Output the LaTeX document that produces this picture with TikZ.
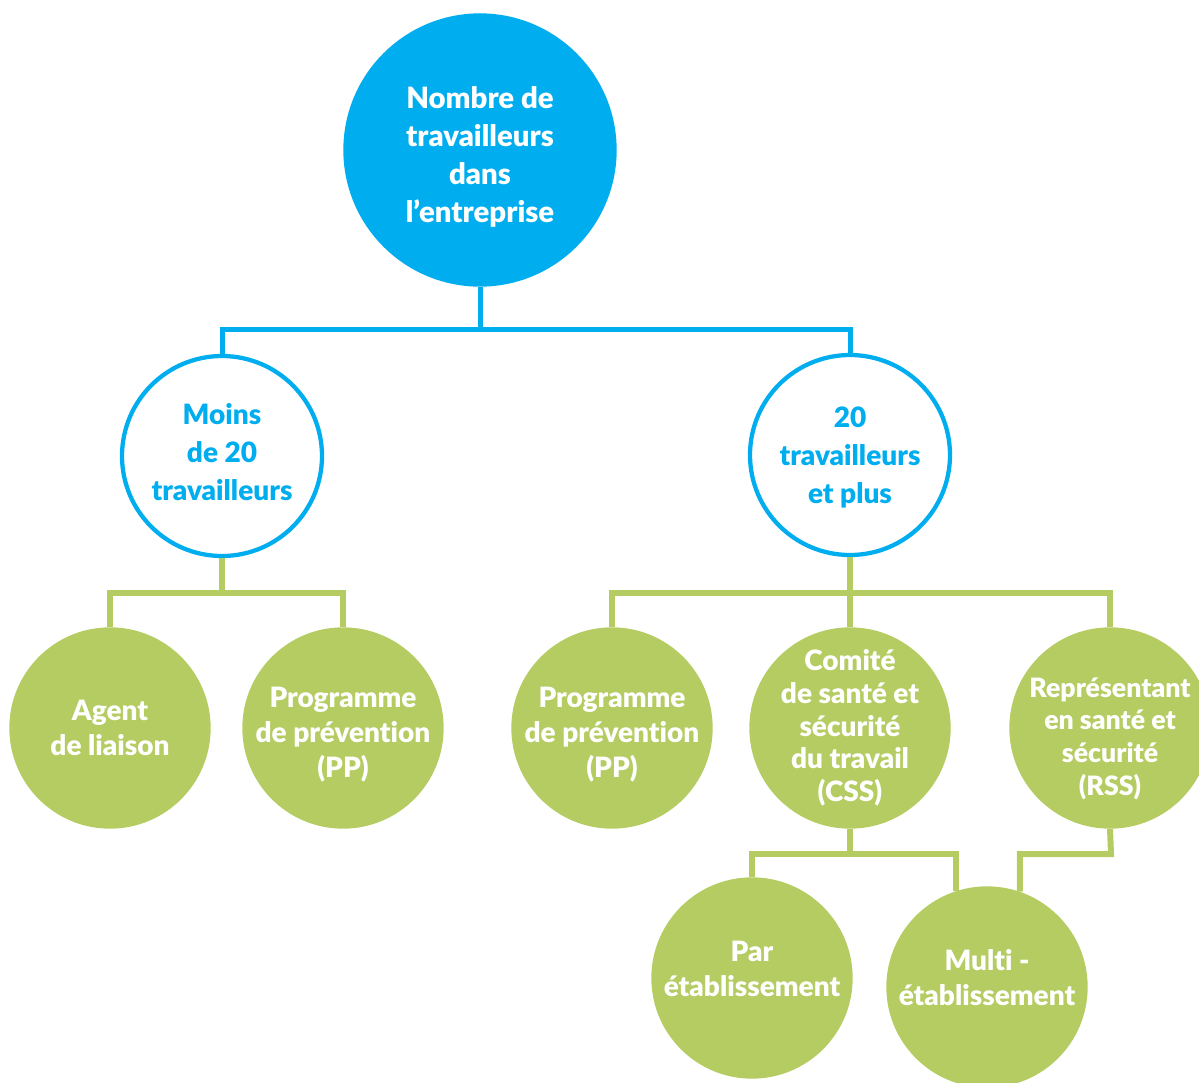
\documentclass[tikz,border=0pt]{standalone}
\usepackage{fontspec}
\setmainfont{Lato}[BoldFont={Lato Black},Ligatures=NoCommon]
\usetikzlibrary{calc}

\definecolor{cyanA}{RGB}{0,174,239}
\definecolor{greenA}{RGB}{181,204,98}

\begin{document}
\begin{tikzpicture}[x=0.75pt,y=0.75pt,yscale=-1,xscale=1,
    topcirc/.style={circle,fill=cyanA,minimum size=205pt,inner sep=0pt},
    bluecirc/.style={circle,draw=cyanA,line width=3.2pt,fill=white,minimum size=150pt,inner sep=0pt},
    greencirc/.style={circle,fill=greenA,minimum size=151pt,inner sep=0pt},
    toptext/.style={align=center,inner sep=0pt,text=white,font=\fontsize{22}{28.5}\selectfont\bfseries},
    bluetext/.style={align=center,inner sep=0pt,text=cyanA,font=\fontsize{21}{28.5}\selectfont\bfseries},
    greentext/.style={align=center,inner sep=0pt,text=white,font=\fontsize{21}{26.5}\selectfont\bfseries},
    blueline/.style={draw=cyanA,line width=3.75pt},
    greenline/.style={draw=greenA,line width=4.5pt}]
        \useasboundingbox (0,0) rectangle (1199,1082);
        \clip (0,0) rectangle (1199,1082);
        % Circles
        \node [topcirc] (nombre) at (480,150) {};
        \node [bluecirc] (moins) at (222,456) {};
        \node [bluecirc] (plus) at (850,455) {};
        \node [greencirc] (agent) at (110,728) {};
        \node [greencirc] (ppa) at (343,728) {};
        \node [greencirc] (ppb) at (612,728) {};
        \node [greencirc] (css) at (850,728) {};
        \node [greencirc] (rss) at (1110,728) {};
        \node [greencirc] (par) at (752,978) {};
        \node [greencirc] (multi) at (987,987) {};
        % Texts
        \node [toptext,yshift=-5pt] (nombre-t) at (nombre) {Nombre de\\travailleurs\\dans\\l’entreprise};
        \node [bluetext,yshift=3pt] (moins-t) at (moins) {Moins\\de 20\\travailleurs};
        \node [bluetext,yshift=-2pt] (plus-t) at (plus) {20\\travailleurs\\et plus};
        \node [greentext] (agent-t) at (agent) {Agent\\de liaison};
        \node [greentext,yshift=-5pt] (ppa-t) at (ppa) {Programme\\de prévention\\(PP)};
        \node [greentext,yshift=-5pt] (ppb-t) at (ppb) {Programme\\de prévention\\(PP)};
        \node [greentext,font=\fontsize{21}{24.5}\selectfont\bfseries] (css-t) at (css) {Comité\\de santé et\\sécurité\\du travail\\(CSS)};
        \node [greentext,font=\fontsize{20}{24.5}\selectfont\bfseries,yshift=-8pt] (rss-t) at (rss) {Représentant\\en santé et\\sécurité\\(RSS)};
        \node [greentext,yshift=7pt] (par-t) at (par) {Par\\établissement};
        \node [greentext,yshift=7pt] (multi-t) at (multi) {Multi -\\établissement};
        % Bars
        \coordinate (topbar) at (480,329);
        \coordinate (lbar) at (222,593);
        \coordinate (rbar) at (850,593);
        \coordinate (cssbar) at (850,854);
        \coordinate (rssbar) at (1111,854);
        % Connectors
        \draw [blueline] (nombre.south) -- (topbar) -| (moins.north);
        \draw [blueline] (topbar) -| (plus.north);
        \draw [greenline] (moins.south) -- (lbar) -| (agent.north);
        \draw [greenline] (lbar) -| (ppa.north);
        \draw [greenline] (plus.south) -- (rbar) -| (ppb.north);
        \draw [greenline] (rbar) -- (css.north);
        \draw [greenline] (rbar) -| (rss.north);
        \draw [greenline] (css.south) -- (cssbar) -| (par.north);
        \draw [greenline] (cssbar) -| (multi.108);
        \draw [greenline] (rss.south) -- (rssbar) -| (multi.71);
\end{tikzpicture}
\end{document}
